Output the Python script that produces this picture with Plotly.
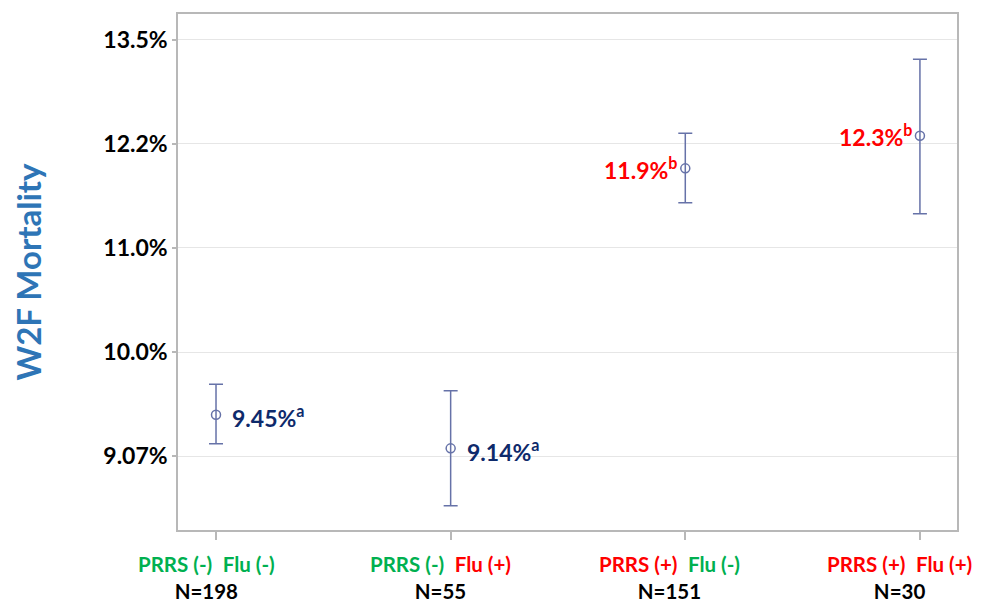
import numpy as np
import plotly.graph_objects as go

# ---- data ----
groups = ["PRRS (-) Flu (-)", "PRRS (-) Flu (+)", "PRRS (+) Flu (-)", "PRRS (+) Flu (+)"]
prrs_status = ["(-)", "(-)", "(+)", "(+)"]
flu_status = ["(-)", "(+)", "(-)", "(+)"]
n_sizes = [198, 55, 151, 30]
mortality = [0.0944, 0.0914, 0.1196, 0.1234]
ci_upper = [0.0972, 0.0966, 0.1237, 0.1328]
ci_lower = [0.0918, 0.0865, 0.1157, 0.1145]
value_labels = ["9.45%", "9.14%", "11.9%", "12.3%"]
letters = ["a", "a", "b", "b"]
tick_logits = [-2.4, -2.3, -2.2, -2.1, -2.0]
tick_labels = ["9.07%", "10.0%", "11.0%", "12.2%", "13.5%"]

# layout-only: horizontal nudge of each category caption (px)
caption_shift = [-10, -10, -16, -20]

GREEN = "#00B050"
RED = "#FF0000"
NAVY = "#0E2A6B"
MARK = "#6672A8"
FONT = "Lato"

x = list(range(len(groups)))
tickvals = list(np.exp(tick_logits))

fig = go.Figure()
fig.add_trace(go.Scatter(
    x=x, y=mortality, mode="markers",
    marker=dict(symbol="circle-open", size=9, color=MARK, line=dict(width=1.5, color=MARK)),
    error_y=dict(type="data", symmetric=False,
                 array=[u - m for u, m in zip(ci_upper, mortality)],
                 arrayminus=[m - l for m, l in zip(mortality, ci_lower)],
                 color=MARK, thickness=1.5, width=7),
    showlegend=False, hoverinfo="skip",
))

annotations = []
for i in x:
    low = mortality[i] < 0.1
    col = NAVY if low else RED
    annotations.append(dict(
        x=i, y=np.log10(mortality[i]), xref="x", yref="y",
        text=f"<b>{value_labels[i]}<sup>{letters[i]}</sup></b>",
        showarrow=False,
        xanchor="left" if low else "right",
        xshift=14 if low else -6,
        yshift=-2 if low else 0,
        font=dict(family=FONT, size=23, color=col),
    ))
    pc = GREEN if prrs_status[i] == "(-)" else RED
    fc = GREEN if flu_status[i] == "(-)" else RED
    annotations.append(dict(
        x=i, y=0, xref="x", yref="paper", yanchor="top", yshift=-20, xshift=caption_shift[i],
        text=(f"<span style='color:{pc}'><b>PRRS {prrs_status[i]}</b></span>&nbsp;&nbsp;"
              f"<span style='color:{fc}'><b>Flu {flu_status[i]}</b></span><br>"
              f"<span style='color:black'><b>N={n_sizes[i]}</b></span>"),
        showarrow=False, align="center",
        font=dict(family=FONT, size=20.5, color="black"),
    ))

fig.update_layout(
    width=974, height=597,
    margin=dict(l=170, r=25, t=4, b=75),
    paper_bgcolor="white", plot_bgcolor="white",
    font=dict(family=FONT),
    annotations=annotations,
    xaxis=dict(
        range=[-0.162, 3.158], tickvals=x, ticktext=[""] * 4, showticklabels=False,
        ticks="outside", ticklen=8, tickwidth=1.5, tickcolor="#B8B8B8",
        showgrid=False, zeroline=False,
        showline=True, linecolor="#B8B8B8", linewidth=1.5, mirror=True,
    ),
    yaxis=dict(
        type="log", range=[-1.0731, -0.8579],
        tickvals=tickvals, ticktext=tick_labels,
        tickfont=dict(family=FONT, size=23, color="black", weight="bold"),
        ticks="outside", ticklen=4, tickwidth=1.5, tickcolor="#B8B8B8",
        showgrid=True, gridcolor="#E6E6E6", gridwidth=1.2, zeroline=False,
        showline=True, linecolor="#B8B8B8", linewidth=1.5, mirror=True,
        title=dict(text="<b>W2F Mortality</b>", standoff=56,
                   font=dict(family=FONT, size=33, color="#2E75B6")),
    ),
)

fig.write_html("out.html")
